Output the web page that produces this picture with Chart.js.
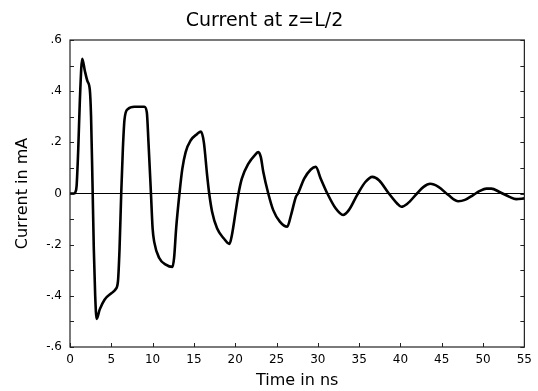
<!DOCTYPE html>
<html>
<head>
<meta charset="utf-8">
<script src="https://cdn.jsdelivr.net/npm/chart.js@4.4.1/dist/chart.umd.min.js"></script>
<style>
html,body{margin:0;padding:0;background:#fff;}
#wrap{width:538px;height:391px;}
</style>
</head>
<body>
<div id="wrap"><canvas id="c" width="538" height="391"></canvas></div>
<script>
const chartTitle = 'Current at z=L/2';
const xAxisTitle = 'Time in ns';
const yAxisTitle = 'Current in mA';

const timeNs = [
  0, 0.5, 0.65, 0.8, 1.0, 1.2, 1.48, 1.8, 2.1, 2.4, 2.55, 2.72, 2.88, 3.05, 3.22,
  3.6, 4.2, 5.0, 5.5, 5.8, 6.0, 6.2, 6.4, 6.6, 7.0, 7.8, 9.0, 9.3, 9.5, 9.8,
  10.0, 10.2, 10.8, 11.6, 12.4, 12.6, 12.85, 13.25, 13.6, 14.0, 14.6, 15.4, 15.85, 16.2, 16.6, 16.85,
  17.2, 17.8, 18.6, 19.3, 19.6, 20.05, 20.4, 20.8, 21.6, 22.4, 22.8, 23.1, 23.4, 24.0,
  24.6, 25.4, 26.3, 26.75, 27.35, 27.6, 28.35, 29.15, 29.75, 30.35, 31.15, 32.15, 33.05, 33.75, 34.75,
  35.75, 36.6, 37.4, 38.6, 39.6, 40.1, 40.8, 42.0, 42.8, 43.6, 44.6, 45.8, 47.0, 47.8, 48.8, 49.6, 50.4, 51.0, 52.0, 53.2, 54.0, 55.0
];
const currentMA = [
  0, 0, 0.005, 0.03, 0.175, 0.37, 0.527, 0.479, 0.44, 0.405, 0.30, 0.045, -0.214, -0.40, -0.49,
  -0.453, -0.414, -0.39, -0.375, -0.345, -0.214, 0, 0.175, 0.29, 0.33, 0.339, 0.339, 0.317, 0.2, 0,
  -0.136, -0.19, -0.252, -0.278, -0.287, -0.252, -0.136, 0, 0.097, 0.162, 0.207, 0.233, 0.242, 0.201, 0.071, 0,
  -0.071, -0.136, -0.175, -0.197, -0.162, -0.071, 0, 0.058, 0.117, 0.151, 0.162, 0.142, 0.084, 0,
  -0.065, -0.11, -0.13, -0.085, -0.013, 0, 0.058, 0.094, 0.104, 0.058, 0, -0.058, -0.084, -0.065, -0.006,
  0.045, 0.065, 0.052, 0, -0.039, -0.052, -0.041, 0, 0.026, 0.038, 0.026, -0.006, -0.03, -0.025, -0.006, 0.01, 0.019, 0.019, 0.006, -0.013, -0.022, -0.019
];

const xTickValues = [0, 5, 10, 15, 20, 25, 30, 35, 40, 45, 50, 55];
const xTickLabels = ['0', '5', '10', '15', '20', '25', '30', '35', '40', '45', '50', '55'];
const yTickValues = [-0.6, -0.4, -0.2, 0, 0.2, 0.4, 0.6];
const yTickLabels = ['-.6', '-.4', '-.2', '0', '.2', '.4', '.6'];
const yMinorTickValues = [-0.5, -0.3, -0.1, 0.1, 0.3, 0.5];

const FONT = '"DejaVu Sans", "Liberation Sans", sans-serif';

const framePlugin = {
  id: 'frame',
  afterDatasetsDraw(chart) {
    const {ctx, chartArea: a, scales: {x, y}} = chart;
    ctx.save();
    ctx.strokeStyle = '#222';
    ctx.lineWidth = 1.2;
    ctx.strokeRect(a.left, a.top, a.right - a.left, a.bottom - a.top);
    ctx.lineWidth = 1;
    ctx.beginPath();
    const tl = 4;
    yTickValues.concat(yMinorTickValues).forEach(v => {
      const py = Math.round(y.getPixelForValue(v)) + 0.5;
      ctx.moveTo(a.left, py); ctx.lineTo(a.left + tl, py);
      ctx.moveTo(a.right, py); ctx.lineTo(a.right - tl, py);
    });
    xTickValues.forEach(v => {
      const px = Math.round(x.getPixelForValue(v)) + 0.5;
      ctx.moveTo(px, a.bottom); ctx.lineTo(px, a.bottom - tl);
    });
    ctx.stroke();
    ctx.restore();
  }
};

new Chart(document.getElementById('c'), {
  type: 'scatter',
  data: {
    datasets: [{
      data: timeNs.map((t, i) => ({x: t, y: currentMA[i]})),
      showLine: true,
      borderColor: '#000',
      borderWidth: 2.6,
      pointRadius: 0,
      cubicInterpolationMode: 'monotone',
      fill: false
    }]
  },
  options: {
    responsive: false,
    animation: false,
    devicePixelRatio: 1,
    layout: {padding: {left: 0, right: 9, top: 0, bottom: 0}},
    plugins: {
      legend: {display: false},
      tooltip: {enabled: false},
      title: {
        display: true,
        text: chartTitle,
        color: '#000',
        font: {family: FONT, size: 19, weight: 'normal', lineHeight: 1.2},
        padding: {top: 10, bottom: 7.2}
      }
    },
    scales: {
      x: {
        type: 'linear',
        min: 0, max: 55,
        afterBuildTicks: s => { s.ticks = xTickValues.map(v => ({value: v})); },
        afterFit: s => { s.height = 44; },
        border: {display: false},
        grid: {display: false, drawTicks: false},
        ticks: {
          color: '#000',
          font: {family: FONT, size: 12},
          padding: 6,
          maxRotation: 0,
          callback: (v, i) => xTickLabels[i]
        },
        title: {
          display: true, text: xAxisTitle, color: '#000',
          font: {family: FONT, size: 16, lineHeight: 1.2},
          padding: {top: 0, bottom: 1}
        }
      },
      y: {
        type: 'linear',
        min: -0.6, max: 0.6,
        afterBuildTicks: s => { s.ticks = yTickValues.map(v => ({value: v})); },
        afterFit: s => { s.width = 70; },
        border: {display: false},
        grid: {
          drawTicks: false,
          lineWidth: 1,
          color: c => (c.tick && Math.abs(c.tick.value) < 1e-9) ? '#000' : 'rgba(0,0,0,0)'
        },
        ticks: {
          color: '#000',
          font: {family: FONT, size: 12},
          padding: 8,
          callback: (v, i) => yTickLabels[i]
        },
        title: {
          display: true, text: yAxisTitle, color: '#000',
          font: {family: FONT, size: 16, lineHeight: 1.2},
          padding: {top: 13, bottom: 0}
        }
      }
    }
  },
  plugins: [framePlugin]
});
</script>
</body>
</html>
